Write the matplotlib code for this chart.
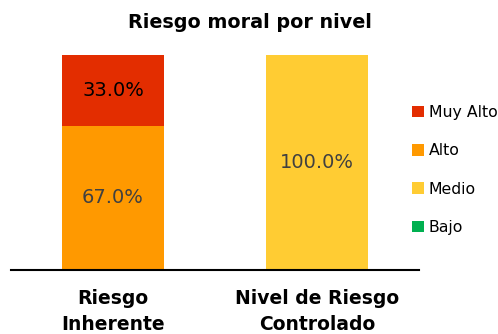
import numpy as np
import matplotlib.pyplot as plt

categorias = ['Riesgo\nInherente', 'Nivel de Riesgo\nControlado']
niveles = ['Bajo', 'Medio', 'Alto', 'Muy Alto']
valores = {
    'Bajo': [0.0, 0.0],
    'Medio': [0.0, 100.0],
    'Alto': [67.0, 0.0],
    'Muy Alto': [33.0, 0.0],
}
colores = {'Bajo': '#00B050', 'Medio': '#FFCC33', 'Alto': '#FF9900', 'Muy Alto': '#E32D00'}
color_texto = {'Bajo': '#404040', 'Medio': '#404040', 'Alto': '#404040', 'Muy Alto': '#000000'}

fig = plt.figure(figsize=(4.98, 3.34), dpi=100)
ax = fig.add_axes([11 / 498, 64 / 334, 408 / 498, 215 / 334])

x = np.arange(len(categorias))
base = np.zeros(len(categorias))
for nivel in niveles:
    v = np.array(valores[nivel])
    barras = ax.bar(x, v, 0.5, bottom=base, color=colores[nivel], label=nivel)
    for b, val, y0 in zip(barras, v, base):
        if val > 0:
            ax.text(b.get_x() + b.get_width() / 2, y0 + val / 2, f'{val:.1f}%',
                    ha='center', va='center', fontsize=14, color=color_texto[nivel])
    base += v

ax.set_xlim(-0.5, 1.5)
ax.set_ylim(0, 100)
ax.set_yticks([])
ax.set_xticks(x)
ax.set_xticklabels(categorias, fontsize=13.5, fontweight='bold', linespacing=1.45)
ax.tick_params(axis='x', length=0, pad=14)
for s in ['top', 'right', 'left']:
    ax.spines[s].set_visible(False)
ax.spines['bottom'].set_linewidth(1.5)

fig.text(250 / 498, 1 - 22 / 334, 'Riesgo moral por nivel', ha='center', va='center',
         fontsize=13.8, fontweight='bold')

h, l = ax.get_legend_handles_labels()
fig.legend(h[::-1], l[::-1], loc='center left', bbox_to_anchor=(398 / 498, 1 - 170 / 334),
           frameon=False, fontsize=11.3, handlelength=0.75, handleheight=0.75,
           handletextpad=0.3, labelspacing=1.48)

fig.savefig('out.png', dpi=100)
